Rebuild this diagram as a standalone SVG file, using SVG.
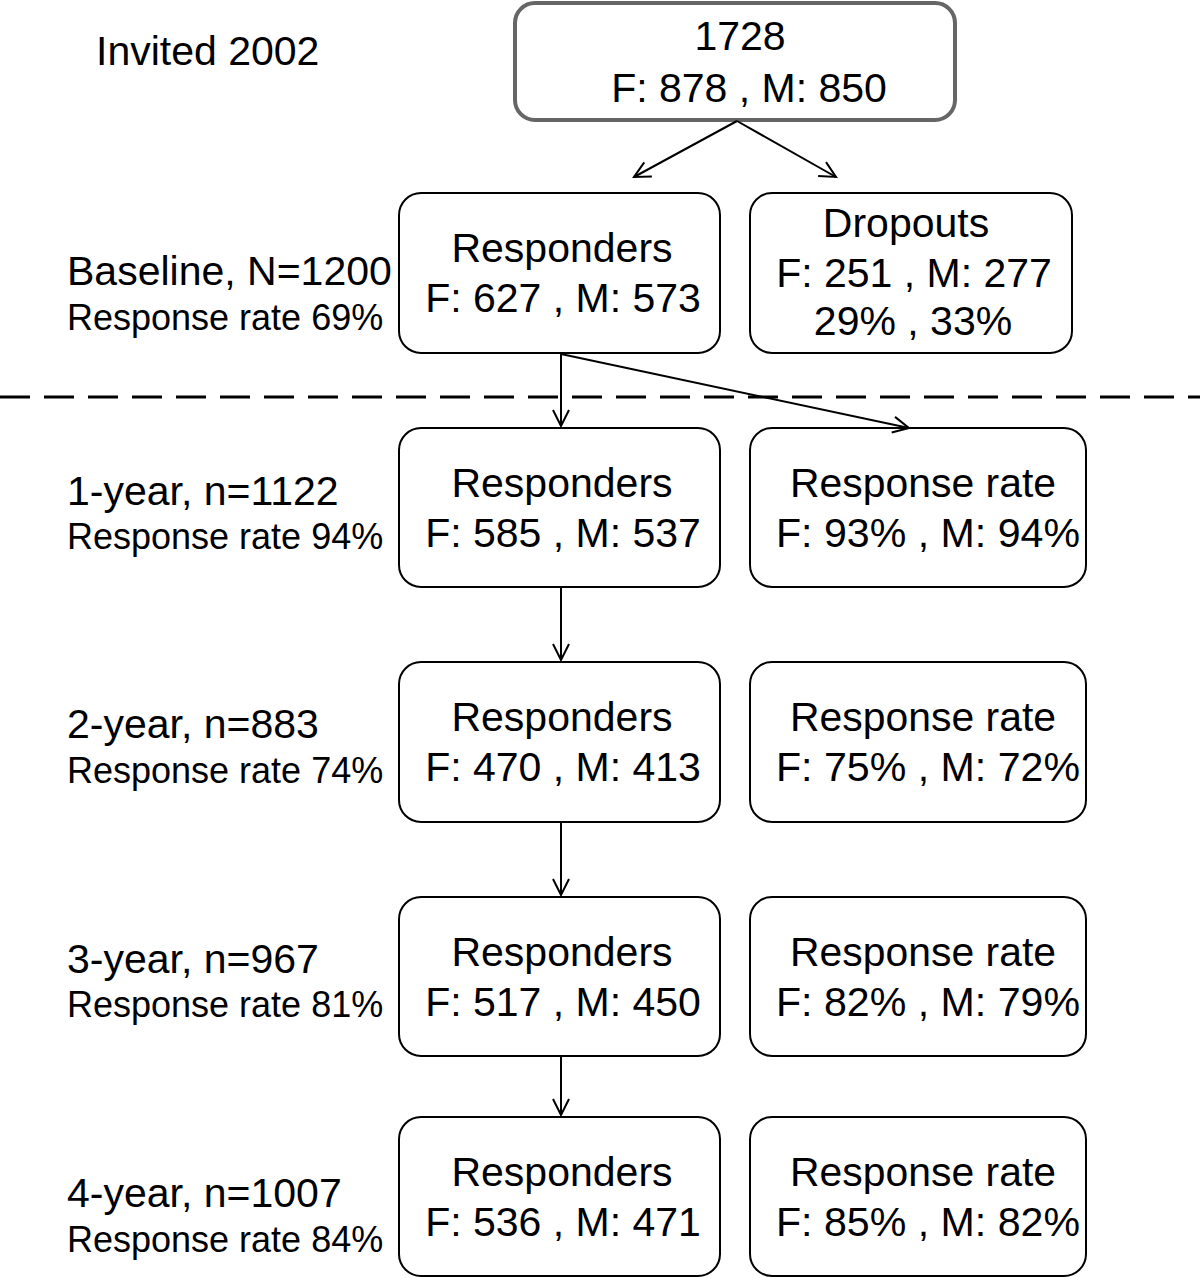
<svg xmlns="http://www.w3.org/2000/svg" width="1200" height="1278" viewBox="0 0 1200 1278">
<defs>
<marker id="arr" viewBox="0 0 20 20" refX="18" refY="10" markerWidth="20" markerHeight="20" markerUnits="userSpaceOnUse" orient="auto">
<path d="M2,2 L18,10 L2,18" fill="none" stroke="#000" stroke-width="2"/>
</marker>
<style>
.box{fill:#fff;stroke:#000;stroke-width:2}
.top{fill:#fff;stroke:#666;stroke-width:4}
.t{font-family:"Liberation Sans",Arial,sans-serif;font-size:41px;fill:#000;text-anchor:middle}
.lab{font-family:"Liberation Sans",Arial,sans-serif;font-size:41px;fill:#000}
.sub{font-family:"Liberation Sans",Arial,sans-serif;font-size:36px;fill:#000}
.c{stroke:#000;stroke-width:2;fill:none}
</style>
</defs>
<rect width="1200" height="1278" fill="#fff"/>
<g id="labels">
<text class="lab" x="96" y="65">Invited 2002</text>
<text class="lab" x="67" y="285">Baseline, N=1200</text>
<text class="sub" x="67" y="330">Response rate 69%</text>
<text class="lab" x="67" y="505">1-year, n=1122</text>
<text class="sub" x="67" y="549">Response rate 94%</text>
<text class="lab" x="67" y="738">2-year, n=883</text>
<text class="sub" x="67" y="783">Response rate 74%</text>
<text class="lab" x="67" y="973">3-year, n=967</text>
<text class="sub" x="67" y="1017">Response rate 81%</text>
<text class="lab" x="67" y="1207">4-year, n=1007</text>
<text class="sub" x="67" y="1252">Response rate 84%</text>
</g>
<line x1="0" y1="397" x2="1200" y2="397" stroke="#000" stroke-width="3" stroke-dasharray="30,14"/>
<g id="invited">
<rect class="top" x="515" y="3" width="440" height="117" rx="20"/>
<text class="t" x="740" y="50">1728</text>
<text class="t" x="749" y="102">F: 878 , M: 850</text>
</g>
<g id="baseline-responders">
<rect class="box" x="399" y="193" width="321" height="160" rx="22"/>
<text class="t" x="562" y="262">Responders</text>
<text class="t" x="563" y="312">F: 627 , M: 573</text>
</g>
<g id="dropouts">
<rect class="box" x="750" y="193" width="322" height="160" rx="22"/>
<text class="t" x="906" y="237">Dropouts</text>
<text class="t" x="914" y="287">F: 251 , M: 277</text>
<text class="t" x="913" y="335">29% , 33%</text>
</g>
<g id="y1-responders">
<rect class="box" x="399" y="428" width="321" height="159" rx="22"/>
<text class="t" x="562" y="497">Responders</text>
<text class="t" x="563" y="547">F: 585 , M: 537</text>
</g>
<g id="y1-rate">
<rect class="box" x="750" y="428" width="336" height="159" rx="22"/>
<text class="t" x="923" y="497" textLength="266" lengthAdjust="spacingAndGlyphs">Response rate</text>
<text class="t" x="928" y="547" textLength="304" lengthAdjust="spacingAndGlyphs">F: 93% , M: 94%</text>
</g>
<g id="y2-responders">
<rect class="box" x="399" y="662" width="321" height="160" rx="22"/>
<text class="t" x="562" y="731">Responders</text>
<text class="t" x="563" y="781">F: 470 , M: 413</text>
</g>
<g id="y2-rate">
<rect class="box" x="750" y="662" width="336" height="160" rx="22"/>
<text class="t" x="923" y="731" textLength="266" lengthAdjust="spacingAndGlyphs">Response rate</text>
<text class="t" x="928" y="781" textLength="304" lengthAdjust="spacingAndGlyphs">F: 75% , M: 72%</text>
</g>
<g id="y3-responders">
<rect class="box" x="399" y="897" width="321" height="159" rx="22"/>
<text class="t" x="562" y="966">Responders</text>
<text class="t" x="563" y="1016">F: 517 , M: 450</text>
</g>
<g id="y3-rate">
<rect class="box" x="750" y="897" width="336" height="159" rx="22"/>
<text class="t" x="923" y="966" textLength="266" lengthAdjust="spacingAndGlyphs">Response rate</text>
<text class="t" x="928" y="1016" textLength="304" lengthAdjust="spacingAndGlyphs">F: 82% , M: 79%</text>
</g>
<g id="y4-responders">
<rect class="box" x="399" y="1117" width="321" height="159" rx="22"/>
<text class="t" x="562" y="1186">Responders</text>
<text class="t" x="563" y="1236">F: 536 , M: 471</text>
</g>
<g id="y4-rate">
<rect class="box" x="750" y="1117" width="336" height="159" rx="22"/>
<text class="t" x="923" y="1186" textLength="266" lengthAdjust="spacingAndGlyphs">Response rate</text>
<text class="t" x="928" y="1236" textLength="304" lengthAdjust="spacingAndGlyphs">F: 85% , M: 82%</text>
</g>
<g id="connectors">
<line class="c" x1="737" y1="121" x2="634" y2="177" marker-end="url(#arr)"/>
<line class="c" x1="737" y1="121" x2="836" y2="177" marker-end="url(#arr)"/>
<line class="c" x1="561" y1="354" x2="561" y2="426" marker-end="url(#arr)"/>
<line class="c" x1="561" y1="354" x2="909" y2="428" marker-end="url(#arr)"/>
<line class="c" x1="561" y1="588" x2="561" y2="660" marker-end="url(#arr)"/>
<line class="c" x1="561" y1="823" x2="561" y2="895" marker-end="url(#arr)"/>
<line class="c" x1="561" y1="1057" x2="561" y2="1115" marker-end="url(#arr)"/>
</g>
</svg>
